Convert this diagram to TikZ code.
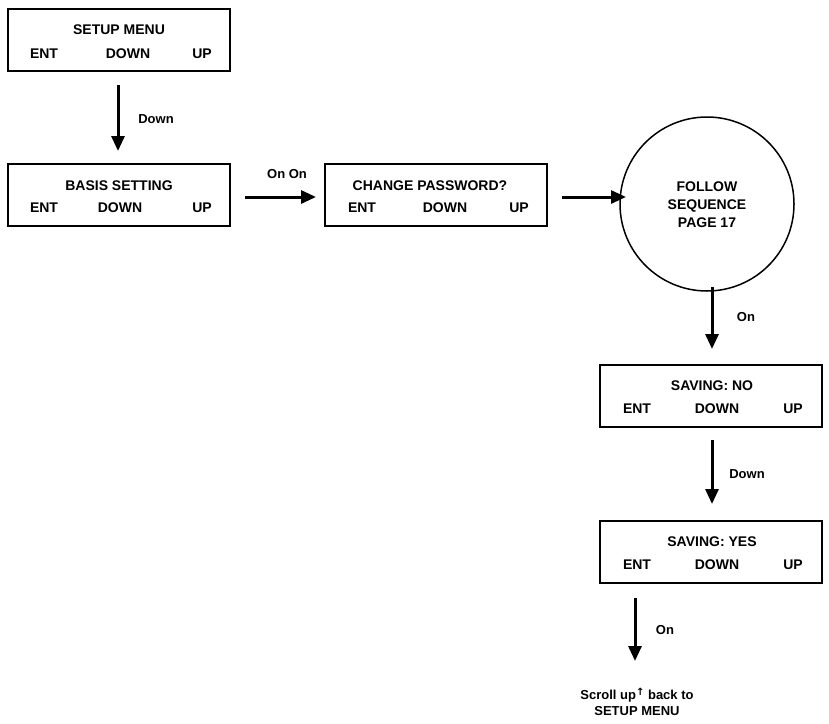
\documentclass[tikz,border=0pt]{standalone}
\usepackage{fontspec}
\setmainfont{Liberation Sans}
\newfontfamily\symf{DejaVu Sans}
\usetikzlibrary{arrows.meta}
\begin{document}
\begin{tikzpicture}[x=1pt,y=-1pt,
  box/.style={draw,line width=2.2pt,minimum width=222pt,minimum height=62pt,inner sep=0pt},
  t/.style={font=\bfseries\fontsize{14}{16}\selectfont,inner sep=0pt},
  arr/.style={line width=3pt,-{Triangle[width=13pt,length=15pt]}},
  lab/.style={font=\bfseries\fontsize{13}{15}\selectfont,inner sep=0pt}]
\useasboundingbox (0,0) rectangle (829,723);
% boxes
\node[box] (b1) at (119,40) {};
\node[t] at (119,30) {SETUP MENU};
\node[t] at (44,54) {ENT}; \node[t] at (128,54) {DOWN}; \node[t] at (202,54) {UP};
\node[box] (b2) at (119,195) {};
\node[t] at (119,186) {BASIS SETTING};
\node[t] at (44,208) {ENT}; \node[t] at (120,208) {DOWN}; \node[t] at (202,208) {UP};
\node[box] (b3) at (436,195) {};
\node[t] at (430,186) {CHANGE PASSWORD?};
\node[t] at (362,208) {ENT}; \node[t] at (445,208) {DOWN}; \node[t] at (519,208) {UP};
\node[draw,circle,line width=1.5pt,minimum size=174pt] (c) at (707,204) {};
\node[t,align=center] at (707,205) {FOLLOW\\[2pt]SEQUENCE\\[2pt]PAGE 17};
\node[box] (b4) at (711,396) {};
\node[t] at (712,386) {SAVING: NO};
\node[t] at (637,409) {ENT}; \node[t] at (717,409) {DOWN}; \node[t] at (793,409) {UP};
\node[box] (b5) at (711,552) {};
\node[t] at (712,542) {SAVING: YES};
\node[t] at (637,565) {ENT}; \node[t] at (717,565) {DOWN}; \node[t] at (793,565) {UP};
% arrows
\coordinate (a1) at (118,85); \coordinate (a1e) at (118,151);
\draw[arr] (a1) -- (a1e); \node[lab] at (156,119) {Down};
\coordinate (a2) at (245,197); \coordinate (a2e) at (316,197);
\draw[arr] (a2) -- (a2e); \node[lab] at (287,174) {On On};
\coordinate (a3) at (562,197); \coordinate (a3e) at (626,197);
\draw[arr] (a3) -- (a3e);
\coordinate (a4) at (712,287); \coordinate (a4e) at (712,349);
\draw[arr] (a4) -- (a4e); \node[lab] at (746,317) {On};
\coordinate (a5) at (712,440); \coordinate (a5e) at (712,504);
\draw[arr] (a5) -- (a5e); \node[lab] at (747,474) {Down};
\coordinate (a6) at (635,598); \coordinate (a6e) at (635,661);
\draw[arr] (a6) -- (a6e); \node[lab] at (665,630) {On};
\node[lab,align=center] (s) at (637,702) {Scroll up\raisebox{4pt}{\symf\fontsize{10}{10}\selectfont ↑} back to\\[1pt]SETUP MENU};
\end{tikzpicture}
\end{document}
